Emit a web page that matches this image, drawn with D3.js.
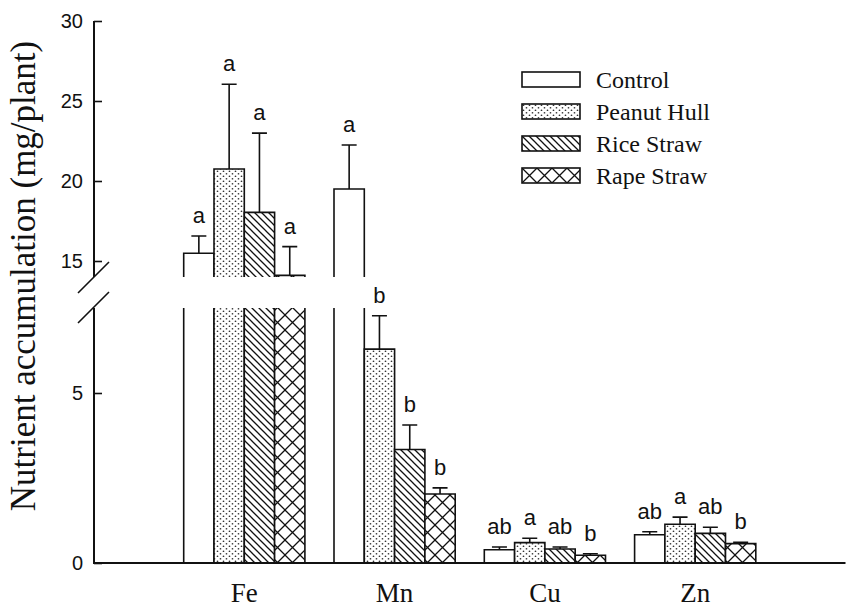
<!DOCTYPE html>
<html><head><meta charset="utf-8">
<script src="https://cdn.jsdelivr.net/npm/d3@7"></script>
<style>body{margin:0;background:#fff}svg{display:block}</style>
</head><body>
<script>
const categories = ["Fe","Mn","Cu","Zn"];
const series = ["Control","Peanut Hull","Rice Straw","Rape Straw"];
const values = {
  "Control":     [15.48, 19.5, 0.39, 0.83],
  "Peanut Hull": [20.75, 6.29, 0.60, 1.14],
  "Rice Straw":  [18.04, 3.34, 0.41, 0.87],
  "Rape Straw":  [14.1,  2.03, 0.23, 0.57]
};
const errors = {
  "Control":     [1.08, 2.75, 0.08, 0.09],
  "Peanut Hull": [5.3,  0.98, 0.13, 0.21],
  "Rice Straw":  [4.95, 0.72, 0.06, 0.18],
  "Rape Straw":  [1.8,  0.18, 0.04, 0.04]
};
const letters = {
  "Control":     ["a","a","ab","ab"],
  "Peanut Hull": ["a","b","a","a"],
  "Rice Straw":  ["a","b","ab","ab"],
  "Rape Straw":  ["a","b","b","b"]
};
const lowTicks = [0, 5];
const highTicks = [15, 20, 25, 30];
const lowDomain = [0, 7.5];
const highDomain = [14, 30];

const W = 848, H = 609;
const svg = d3.select("body").append("svg").attr("width", W).attr("height", H);

const axisX = 94;
const yLow = d3.scaleLinear().domain(lowDomain).range([563, 308]);
const yHigh = d3.scaleLinear().domain(highDomain).range([277, 21]);
const x = d3.scaleLinear().domain([0, categories.length + 1]).range([axisX, 845.5]);
const inner = d3.scaleBand().domain(series).range([-60.6, 60.6]);
const bw = inner.bandwidth();

// patterns
const defs = svg.append("defs");
const pDots = defs.append("pattern").attr("id","dots").attr("patternUnits","userSpaceOnUse")
  .attr("width",6).attr("height",5);
pDots.append("rect").attr("width",6).attr("height",5).attr("fill","#fff");
pDots.append("circle").attr("cx",1.5).attr("cy",1.25).attr("r",0.85).attr("fill","#333");
pDots.append("circle").attr("cx",4.5).attr("cy",3.75).attr("r",0.85).attr("fill","#333");

const pDiag = defs.append("pattern").attr("id","diag").attr("patternUnits","userSpaceOnUse")
  .attr("width",7).attr("height",7);
pDiag.append("rect").attr("width",7).attr("height",7).attr("fill","#fff");
pDiag.append("path").attr("d","M-2,-2L9,9M-2,5L2,9M5,-2L9,2").attr("stroke","#111").attr("stroke-width",1.3);

const pCross = defs.append("pattern").attr("id","cross").attr("patternUnits","userSpaceOnUse")
  .attr("width",15).attr("height",15);
pCross.append("rect").attr("width",15).attr("height",15).attr("fill","#fff");
pCross.append("path").attr("d","M-1,-1L16,16M16,-1L-1,16").attr("stroke","#111").attr("stroke-width",1.3);

const fills = {"Control":"#fff","Peanut Hull":"url(#dots)","Rice Straw":"url(#diag)","Rape Straw":"url(#cross)"};

const g = svg.append("g");
const sw = 1.6;

categories.forEach((cat, ci) => {
  const cx = x(ci + 1);
  series.forEach(s => {
    const v = values[s][ci], e = errors[s][ci];
    const x0 = cx + inner(s), x1 = x0 + bw;
    let topY;
    if (v <= lowDomain[1]) {
      topY = yLow(v);
      g.append("rect").attr("x",x0).attr("y",topY).attr("width",bw).attr("height",yLow(0)-topY)
        .attr("fill",fills[s]);
      g.append("path").attr("d",`M${x0},${yLow(0)}V${topY}H${x1}V${yLow(0)}`)
        .attr("fill","none").attr("stroke","#111").attr("stroke-width",sw);
    } else {
      const lt = yLow(lowDomain[1]);
      g.append("rect").attr("x",x0).attr("y",lt).attr("width",bw).attr("height",yLow(0)-lt)
        .attr("fill",fills[s]);
      g.append("path").attr("d",`M${x0},${yLow(0)}V${lt}M${x1},${lt}V${yLow(0)}`)
        .attr("fill","none").attr("stroke","#111").attr("stroke-width",sw);
      topY = yHigh(v);
      const hb = yHigh(highDomain[0]);
      g.append("rect").attr("x",x0).attr("y",topY).attr("width",bw).attr("height",hb-topY)
        .attr("fill",fills[s]);
      g.append("path").attr("d",`M${x0},${hb}V${topY}H${x1}V${hb}`)
        .attr("fill","none").attr("stroke","#111").attr("stroke-width",sw);
    }
    const ev = v + e;
    const eY = ev <= lowDomain[1] ? yLow(ev) : yHigh(ev);
    const mx = x0 + bw/2;
    g.append("path").attr("d",`M${mx},${topY}V${eY}M${mx-7.5},${eY}H${mx+7.5}`)
      .attr("fill","none").attr("stroke","#111").attr("stroke-width",sw);
    g.append("text").attr("x",mx).attr("y",eY-13).attr("text-anchor","middle")
      .attr("font-family","Liberation Sans, Arial, sans-serif").attr("font-size",22)
      .attr("fill","#111").text(letters[s][ci]);
  });
  svg.append("text").attr("x",cx).attr("y",602).attr("text-anchor","middle")
    .attr("font-family","Liberation Serif, Times New Roman, serif").attr("font-size",27)
    .attr("fill","#111").text(cat);
});

// axes
const axStyle = sel => {
  sel.select(".domain").remove();
  sel.selectAll(".tick line").attr("stroke","#111").attr("stroke-width",1.6);
  sel.selectAll(".tick text").attr("font-family","Liberation Sans, Arial, sans-serif")
    .attr("font-size",20).attr("fill","#111");
};
svg.append("g").attr("transform",`translate(${axisX},0)`)
  .call(d3.axisLeft(yLow).tickValues(lowTicks).tickSizeInner(-8).tickSizeOuter(0).tickPadding(11))
  .call(axStyle);
svg.append("g").attr("transform",`translate(${axisX},0)`)
  .call(d3.axisLeft(yHigh).tickValues(highTicks).tickSizeInner(-8).tickSizeOuter(0).tickPadding(11))
  .call(axStyle);
// axis lines with break
svg.append("path").attr("d",`M${axisX},${yHigh(highDomain[1])}V${yHigh(highDomain[0])}M${axisX},${yLow(lowDomain[1])}V${yLow(0)}H${x.range()[1]}`)
  .attr("fill","none").attr("stroke","#111").attr("stroke-width",2);
const bTop = yHigh(highDomain[0]), bBot = yLow(lowDomain[1]);
svg.append("path").attr("d",`M${axisX-16},${bTop+16}L${axisX+15},${bTop-15}M${axisX-16},${bBot+15}L${axisX+15},${bBot-16}`)
  .attr("fill","none").attr("stroke","#111").attr("stroke-width",1.6);

// y label
svg.append("text").attr("transform",`translate(35,276) rotate(-90)`).attr("text-anchor","middle")
  .attr("font-family","Liberation Serif, Times New Roman, serif").attr("font-size",35)
  .attr("fill","#111").text("Nutrient accumulation (mg/plant)");

// legend
const leg = svg.append("g").attr("transform","translate(522,72)");
series.forEach((s, i) => {
  const row = leg.append("g").attr("transform",`translate(0,${i*32})`);
  row.append("rect").attr("width",58).attr("height",15).attr("fill",fills[s])
    .attr("stroke","#111").attr("stroke-width",1.6);
  row.append("text").attr("x",74).attr("y",15.5)
    .attr("font-family","Liberation Serif, Times New Roman, serif").attr("font-size",24)
    .attr("fill","#111").text(s);
});
</script>
</body></html>
